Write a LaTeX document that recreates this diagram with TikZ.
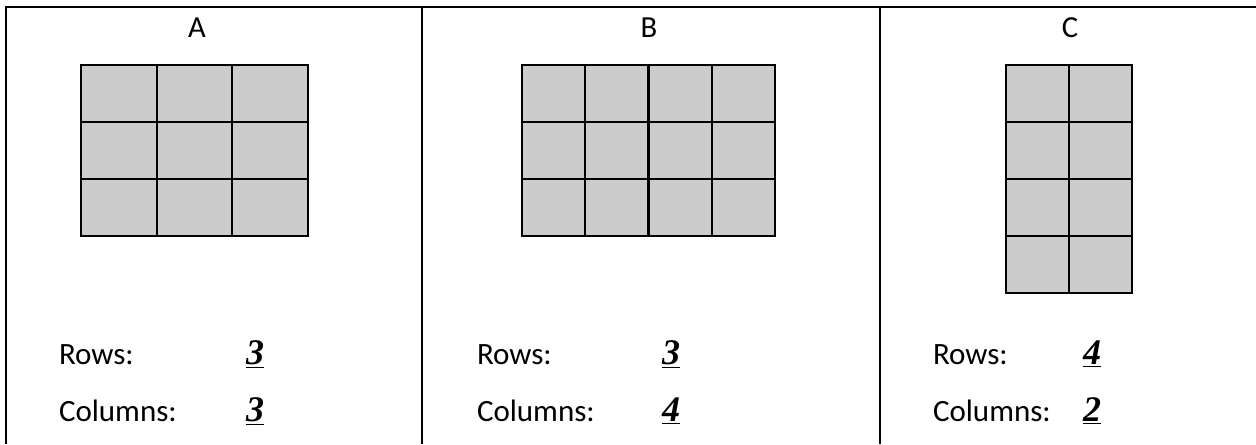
\documentclass[tikz,border=0pt]{standalone}
\usepackage{fontspec}
\setmainfont{Carlito}
\newfontfamily\numfont{Liberation Serif}
\definecolor{cellgray}{RGB}{204,204,204}
\begin{document}
\begin{tikzpicture}[x=0.5pt,y=-0.5pt, line width=1pt,
  lbl/.style={font=\fontsize{15.3}{18}\selectfont, inner sep=0pt, anchor=base},
  txt/.style={font=\fontsize{15.5}{18}\selectfont, inner sep=0pt, anchor=base west},
  num/.style={font=\fontsize{18}{20}\selectfont\numfont\bfseries\itshape, inner sep=0pt, anchor=base},
  gridbox/.style={fill=cellgray, draw=black, line width=1.1pt},
  gridline/.style={draw=black, line width=1.1pt},
  border/.style={draw=black, line width=1.2pt}]
\useasboundingbox (0,0) rectangle (1256,444);
% table borders
\draw[border] (6,444) -- (6,7) -- (1256,7);
\draw[border] (422,7) -- (422,444);
\draw[border] (880,7) -- (880,444);
% headers
\node[lbl] (hA) at (197,38) {A};
\node[lbl] (hB) at (649,38) {B};
\node[lbl] (hC) at (1070,38) {C};
% grid A: 3 x 3
\filldraw[gridbox] (81,65) rectangle (308,236);
\foreach \i in {1,2} \draw[gridline] (81+\i*75.67,65) -- (81+\i*75.67,236);
\foreach \j in {1,2} \draw[gridline] (81,65+\j*57) -- (308,65+\j*57);
% grid B: 3 rows x 4 columns
\filldraw[gridbox] (522,65) rectangle (775,236);
\foreach \i in {1,2,3} \draw[gridline] (522+\i*63.25,65) -- (522+\i*63.25,236);
\foreach \j in {1,2} \draw[gridline] (522,65+\j*57) -- (775,65+\j*57);
% grid C: 4 rows x 2 columns
\filldraw[gridbox] (1006,65) rectangle (1132,293);
\draw[gridline] (1069,65) -- (1069,293);
\foreach \j in {1,2,3} \draw[gridline] (1006,65+\j*57) -- (1132,65+\j*57);
% labels A
\node[txt] (rowsA) at (58,364) {Rows:};
\node[txt] (colsA) at (58,421) {Columns:};
\node[num] (rA) at (255,364) {\underline{3}};
\node[num] (cA) at (255,421) {\underline{3}};
% labels B
\node[txt] (rowsB) at (476,364) {Rows:};
\node[txt] (colsB) at (476,421) {Columns:};
\node[num] (rB) at (671,364) {\underline{3}};
\node[num] (cB) at (671,421) {\underline{4}};
% labels C
\node[txt] (rowsC) at (932,364) {Rows:};
\node[txt] (colsC) at (932,421) {Columns:};
\node[num] (rC) at (1092,364) {\underline{4}};
\node[num] (cC) at (1092,421) {\underline{2}};
\end{tikzpicture}
\end{document}
